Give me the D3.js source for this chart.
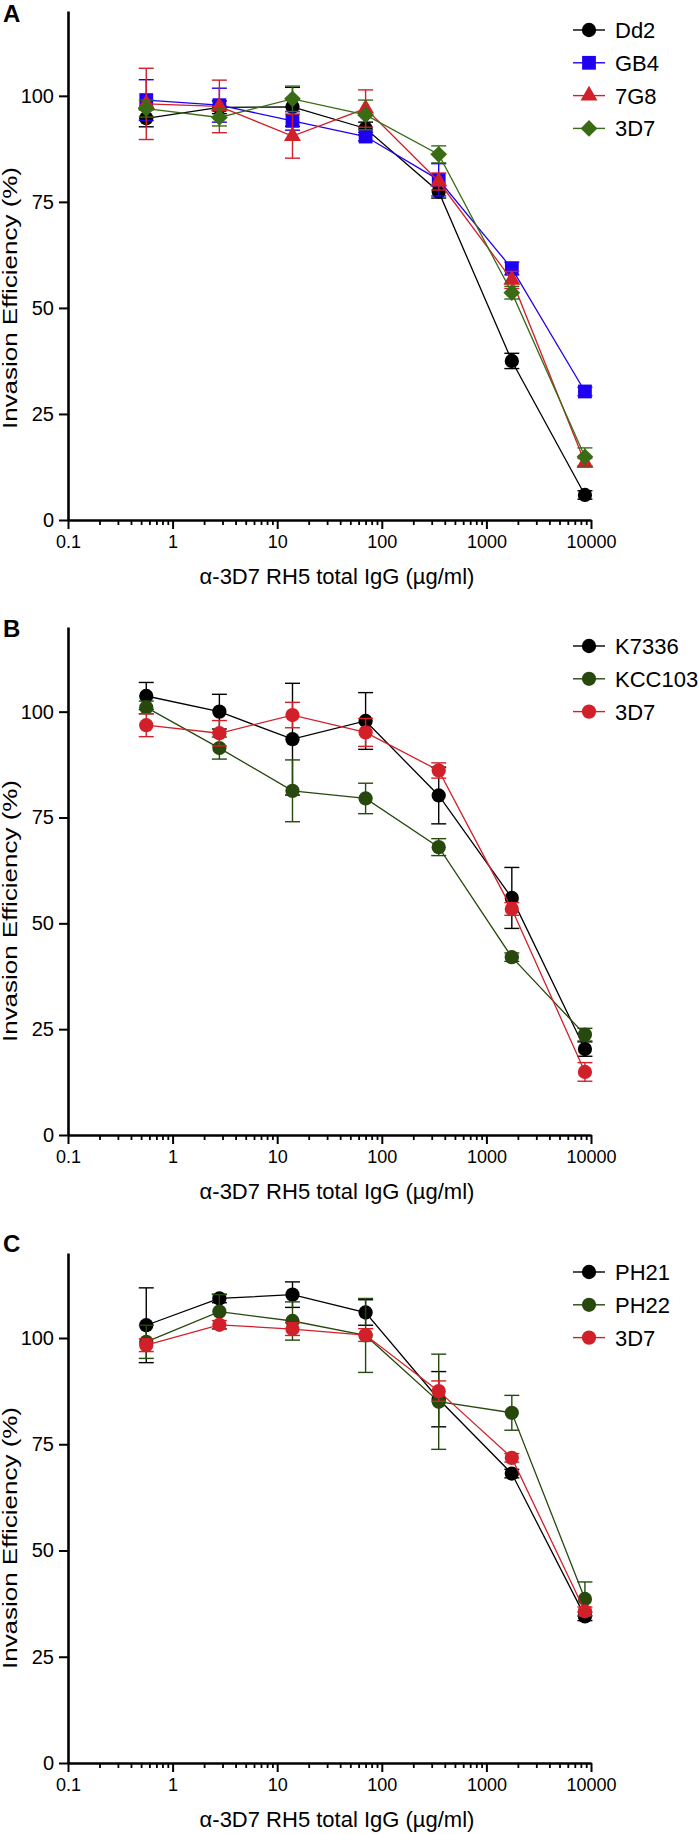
<!DOCTYPE html>
<html>
<head>
<meta charset="utf-8">
<script src="https://cdn.jsdelivr.net/npm/d3@7"></script>
<style>
  html, body { margin: 0; padding: 0; background: #fff; }
  svg { display: block; font-family: "Liberation Sans", Arial, sans-serif; }
</style>
</head>
<body>
<svg id="chart" width="699" height="1834"></svg>
<script>
// ---------------- DATA ----------------
const concentrations = [0.56, 2.8, 14, 70, 350, 1750, 8750];
const xTickValues = [0.1, 1, 10, 100, 1000, 10000];
const xTickLabels = ["0.1", "1", "10", "100", "1000", "10000"];
const yTickValues = [0, 25, 50, 75, 100];
const xAxisTitle = "\u03B1-3D7 RH5 total IgG (\u00B5g/ml)";
const yAxisTitle = "Invasion Efficiency (%)";
const panelLetters = ["A", "B", "C"];

// Panel A
const seriesNamesA = ["Dd2", "GB4", "7G8", "3D7"];
const dd2Values  = [94.7, 97.3, 97.4, 92.3, 77.4, 37.5, 5.9];
const dd2Errors  = [2.0, 1.5, 4.6, 1.5, 1.5, 1.8, 1.0];
const gb4Values  = [99.0, 97.8, 94.1, 90.4, 80.2, 59.3, 30.3];
const gb4Errors  = [4.8, 4.0, 2.2, 1.0, 3.8, 1.5, 1.0];
const g78Values  = [98.1, 97.5, 90.5, 97.0, 79.8, 56.6, 13.5];
const g78Errors  = [8.4, 6.2, 5.2, 4.4, 2.0, 2.0, 1.0];
const a3d7Values = [97.0, 94.9, 99.3, 95.5, 86.2, 53.6, 14.9];
const a3d7Errors = [2.0, 2.0, 3.0, 3.5, 2.0, 1.5, 2.1];

// Panel B
const seriesNamesB = ["K7336", "KCC103", "3D7"];
const k7336Values  = [103.7, 100.0, 93.5, 97.8, 80.2, 56.0, 20.3];
const k7336Errors  = [3.2, 4.1, 13.2, 6.7, 6.7, 7.2, 1.7];
const kcc103Values = [101.0, 91.4, 81.3, 79.5, 68.0, 42.0, 23.7];
const kcc103Errors = [1.5, 2.6, 7.3, 3.6, 2.0, 1.0, 1.5];
const b3d7Values   = [96.8, 94.9, 99.2, 95.1, 86.1, 53.4, 14.9];
const b3d7Errors   = [2.7, 3.0, 3.0, 3.3, 1.8, 1.5, 2.2];

// Panel C
const seriesNamesC = ["PH21", "PH22", "3D7"];
const ph21Values = [103.0, 109.3, 110.2, 106.0, 85.6, 68.1, 34.5];
const ph21Errors = [8.8, 1.0, 3.0, 3.0, 6.5, 1.0, 1.0];
const ph22Values = [99.1, 106.2, 104.0, 100.6, 85.0, 82.4, 38.6];
const ph22Errors = [3.9, 4.0, 4.5, 8.7, 11.2, 4.1, 4.0];
const c3d7Values = [98.3, 103.1, 102.1, 100.7, 87.5, 71.8, 35.7];
const c3d7Errors = [1.5, 1.0, 1.5, 1.5, 2.4, 1.0, 1.0];

// ---------------- STYLE / LAYOUT ----------------
const BLACK = "#000000", BLUE = "#1f00f2", RED = "#d2202a", GREEN_A = "#3a6c15", GREEN_B = "#27490d";

const panels = [
  { letter: panelLetters[0], top: 11, bottom: 520, letterY: 22, titleCenter: 298,
    series: [
      { name: seriesNamesA[0], values: dd2Values,  errors: dd2Errors,  color: BLACK,   shape: "circle" },
      { name: seriesNamesA[1], values: gb4Values,  errors: gb4Errors,  color: BLUE,    shape: "square" },
      { name: seriesNamesA[2], values: g78Values,  errors: g78Errors,  color: RED,     shape: "triangle" },
      { name: seriesNamesA[3], values: a3d7Values, errors: a3d7Errors, color: GREEN_A, shape: "diamond" }
    ]},
  { letter: panelLetters[1], top: 627, bottom: 1135, letterY: 637, titleCenter: 911,
    series: [
      { name: seriesNamesB[0], values: k7336Values,  errors: k7336Errors,  color: BLACK,   shape: "circle" },
      { name: seriesNamesB[1], values: kcc103Values, errors: kcc103Errors, color: GREEN_B, shape: "circle" },
      { name: seriesNamesB[2], values: b3d7Values,   errors: b3d7Errors,   color: RED,     shape: "circle" }
    ]},
  { letter: panelLetters[2], top: 1253, bottom: 1763, letterY: 1252, titleCenter: 1538,
    series: [
      { name: seriesNamesC[0], values: ph21Values, errors: ph21Errors, color: BLACK,   shape: "circle" },
      { name: seriesNamesC[1], values: ph22Values, errors: ph22Errors, color: GREEN_B, shape: "circle" },
      { name: seriesNamesC[2], values: c3d7Values, errors: c3d7Errors, color: RED,     shape: "circle" }
    ]}
];

const svg = d3.select("#chart");
const x = d3.scaleLog().domain([0.1, 10000]).range([68, 591]);

const minorTicks = [];
xTickValues.slice(0, -1).forEach(d => { for (let k = 2; k <= 9; k++) minorTicks.push(d * k); });

const symbolPath = (shape) => {
  if (shape === "circle") return d3.symbol().type(d3.symbolCircle).size(160)();
  if (shape === "square") return d3.symbol().type(d3.symbolSquare).size(190)();
  if (shape === "triangle") return d3.symbol().type(d3.symbolTriangle).size(125)();
  return d3.symbol().type(d3.symbolSquare).size(140)();
};
const symbolRot = (shape) => shape === "diamond" ? 45 : 0;

panels.forEach((p) => {
  const y = d3.scaleLinear().domain([0, 120]).range([p.bottom, p.top]);
  const g = svg.append("g");

  // Panel letter
  g.append("text").attr("x", 3).attr("y", p.letterY)
    .attr("font-size", 24).attr("font-weight", "bold").text(p.letter);

  // X axis (major)
  const xMajor = d3.axisBottom(x).tickValues(xTickValues)
    .tickFormat((d, i) => xTickLabels[i]).tickSize(9).tickSizeOuter(0).tickPadding(6);
  const gx = g.append("g").attr("transform", `translate(0,${p.bottom})`).call(xMajor);
  gx.select(".domain").attr("stroke", "#000").attr("stroke-width", 2.6);
  gx.selectAll(".tick line").attr("stroke", "#000").attr("stroke-width", 2);
  gx.selectAll(".tick text").attr("font-size", 18).attr("fill", "#000")
    .attr("font-family", "Liberation Sans, Arial, sans-serif");

  // X axis (minor)
  const xMinor = d3.axisBottom(x).tickValues(minorTicks).tickFormat("").tickSize(5).tickSizeOuter(0);
  const gxm = g.append("g").attr("transform", `translate(0,${p.bottom})`).call(xMinor);
  gxm.select(".domain").remove();
  gxm.selectAll(".tick line").attr("stroke", "#000").attr("stroke-width", 1.8);

  // Y axis
  const yAxis = d3.axisLeft(y).tickValues(yTickValues).tickSize(9).tickSizeOuter(0).tickPadding(5);
  const gy = g.append("g").attr("transform", `translate(68,0)`).call(yAxis);
  gy.select(".domain").attr("stroke", "#000").attr("stroke-width", 2.6);
  gy.selectAll(".tick line").attr("stroke", "#000").attr("stroke-width", 2);
  gy.selectAll(".tick text").attr("font-size", 20).attr("fill", "#000")
    .attr("font-family", "Liberation Sans, Arial, sans-serif");

  // Axis titles
  g.append("text").attr("x", 337).attr("y", p.bottom + 64)
    .attr("text-anchor", "middle").attr("font-size", 22).text(xAxisTitle);
  g.append("text")
    .attr("transform", `translate(17,${p.titleCenter}) rotate(-90)`)
    .attr("text-anchor", "middle").attr("font-size", 20)
    .attr("textLength", 262).attr("lengthAdjust", "spacingAndGlyphs")
    .text(yAxisTitle);

  // Series
  const line = d3.line().x((d, i) => x(concentrations[i])).y(d => y(d));
  p.series.forEach((s) => {
    const sg = g.append("g");
    sg.append("path").datum(s.values).attr("d", line)
      .attr("fill", "none").attr("stroke", s.color).attr("stroke-width", 1.3);
    // error bars
    const eb = sg.selectAll(".eb").data(s.values).enter().append("g");
    eb.append("line")
      .attr("x1", (d, i) => x(concentrations[i])).attr("x2", (d, i) => x(concentrations[i]))
      .attr("y1", (d, i) => y(d + s.errors[i])).attr("y2", (d, i) => y(d - s.errors[i]))
      .attr("stroke", s.color).attr("stroke-width", 1.4);
    [1, -1].forEach(sign => {
      eb.append("line")
        .attr("x1", (d, i) => x(concentrations[i]) - 7.5).attr("x2", (d, i) => x(concentrations[i]) + 7.5)
        .attr("y1", (d, i) => y(d + sign * s.errors[i])).attr("y2", (d, i) => y(d + sign * s.errors[i]))
        .attr("stroke", s.color).attr("stroke-width", 1.4);
    });
    sg.selectAll(".pt").data(s.values).enter().append("path")
      .attr("d", symbolPath(s.shape))
      .attr("transform", (d, i) => `translate(${x(concentrations[i])},${y(d)}) rotate(${symbolRot(s.shape)})`)
      .attr("fill", s.color);
  });

  // Legend
  const legendTop = p.top + 19;
  p.series.forEach((s, i) => {
    const ly = legendTop + i * 32.8;
    g.append("line").attr("x1", 573).attr("x2", 605).attr("y1", ly).attr("y2", ly)
      .attr("stroke", s.color).attr("stroke-width", 1.4);
    g.append("path").attr("d", symbolPath(s.shape))
      .attr("transform", `translate(589,${ly}) rotate(${symbolRot(s.shape)})`).attr("fill", s.color);
    g.append("text").attr("x", 615).attr("y", ly).attr("dy", "0.36em")
      .attr("font-size", 22).text(s.name);
  });
});
</script>
</body>
</html>
